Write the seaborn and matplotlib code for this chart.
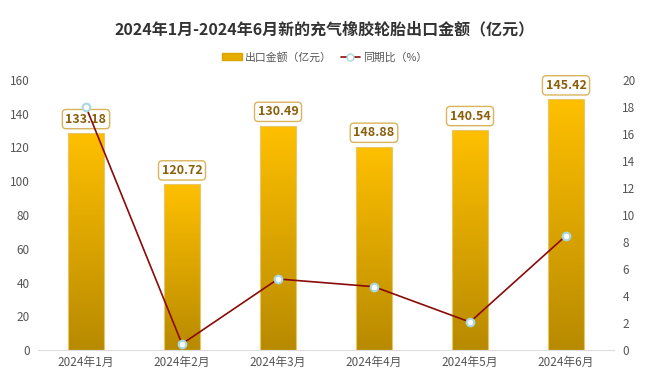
import matplotlib
matplotlib.use("Agg")
import matplotlib.pyplot as plt
import seaborn as sns
import numpy as np
import pandas as pd
from matplotlib.patches import Rectangle
from matplotlib.lines import Line2D
from matplotlib.colors import LinearSegmentedColormap

months = ["2024年1月", "2024年2月", "2024年3月", "2024年4月", "2024年5月", "2024年6月"]
bar_heights = [128.6, 98.2, 132.9, 120.5, 130.4, 148.6]
bar_labels = ["133.18", "120.72", "130.49", "148.88", "140.54", "145.42"]
yoy = [18.0, 0.45, 5.26, 4.69, 2.07, 8.47]

sns.set_theme(style="white")
plt.rcParams['font.family'] = ['Noto Sans CJK SC', 'DejaVu Sans']

df = pd.DataFrame({"month": months, "amount": bar_heights, "yoy": yoy})

fig = plt.figure(figsize=(6.5, 3.88), dpi=100)
ax = fig.add_axes([38/650, 1-350/388, (614-38)/650, 270/388])

sns.barplot(data=df, x="month", y="amount", ax=ax, width=0.365,
            color="#FFC000", edgecolor="#E6C66A", linewidth=0.8, zorder=2)

ax.set_xlim(-0.5, 5.5)
ax.set_ylim(0, 160)
ax.set_yticks(range(0, 161, 20))

# gradient fill
cmap = LinearSegmentedColormap.from_list("g", ["#B88A00", "#FFC000"])
grad = np.linspace(0, 1, 256).reshape(-1, 1)
for p in ax.patches:
    x0, y0 = p.get_x(), p.get_y()
    w, h = p.get_width(), p.get_height()
    im = ax.imshow(grad, extent=[x0, x0 + w, y0, y0 + h], origin="lower",
                   cmap=cmap, aspect="auto", zorder=2.1)
    im.set_clip_path(p)
    p.set_facecolor("none")
    p.set_zorder(2.2)
ax.set_xlim(-0.5, 5.5)
ax.set_ylim(0, 160)

for i, (h, lab) in enumerate(zip(bar_heights, bar_labels)):
    ax.annotate(lab, (i, h), xytext=(0, 10), textcoords="offset points",
                ha="center", va="center", fontsize=9, fontweight="bold",
                color="#8B5E0A", zorder=3,
                bbox=dict(boxstyle="round,pad=0.25,rounding_size=0.3",
                          fc="white", ec="#D9B45A", lw=1.0))

ax2 = ax.twinx()
sns.lineplot(data=df, x="month", y="yoy", ax=ax2, color="#8B0A0A", lw=1.2,
             marker="o", markersize=5.5, markerfacecolor="white",
             markeredgecolor="#A8D8E0", markeredgewidth=1.5, zorder=5)
ax2.set_ylim(0, 20)
ax2.set_yticks(range(0, 21, 2))
ax2.set_xlim(-0.5, 5.5)

for a in (ax, ax2):
    for s in a.spines.values():
        s.set_visible(False)
    a.set_xlabel("")
    a.set_ylabel("")
    a.tick_params(axis="both", length=0, labelsize=8.5, colors="#555555", pad=6)
    a.grid(False)
ax.spines["bottom"].set_visible(True)
ax.spines["bottom"].set_color("#DDDDDD")
ax.spines["bottom"].set_linewidth(0.8)
ax.tick_params(axis="x", pad=4)

fig.suptitle("2024年1月-2024年6月新的充气橡胶轮胎出口金额（亿元）",
             x=0.5, y=1-29/388, va="center", fontsize=11.5, fontweight="bold",
             color="#333333")

handles = [Rectangle((0, 0), 1, 1, fc="#E6AC00", ec="#D9A400"),
           Line2D([0], [0], color="#8B0A0A", lw=1.2, marker="o", markersize=5,
                  markerfacecolor="white", markeredgecolor="#A8D8E0")]
fig.legend(handles, ["出口金额（亿元）", "同期比（%）"], loc="center",
           bbox_to_anchor=(0.5, 1-57/388), ncol=2, frameon=False, fontsize=7.8,
           labelcolor="#555555", handlelength=1.8, handleheight=0.6,
           columnspacing=0.8, handletextpad=0.3)

fig.savefig("out.png", dpi=100)
